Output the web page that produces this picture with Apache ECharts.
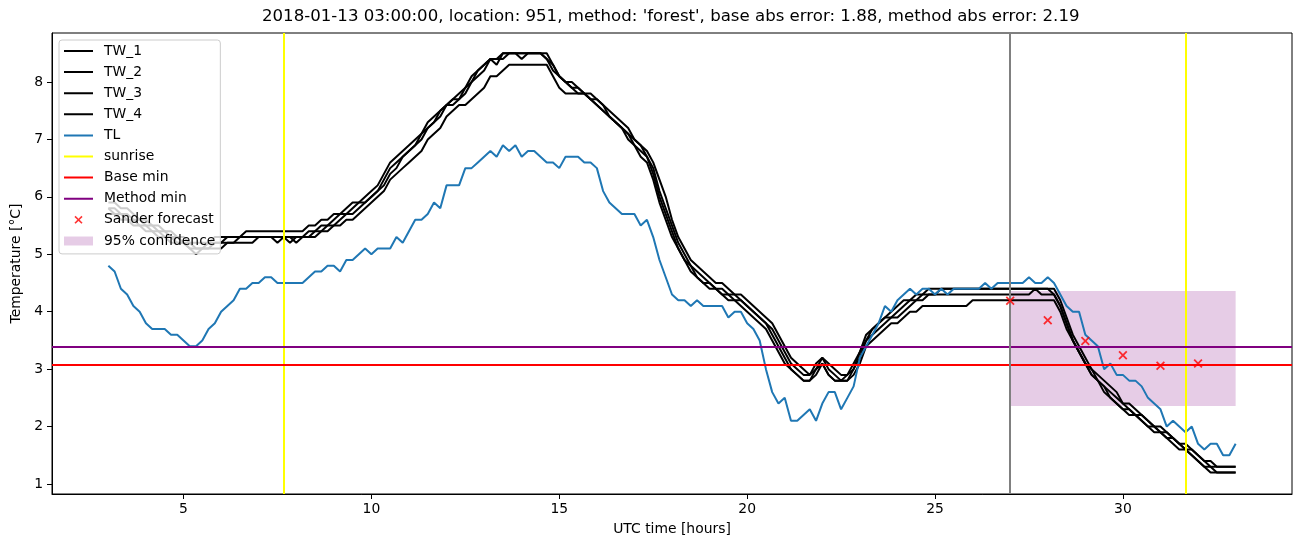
<!DOCTYPE html>
<html>
<head>
<meta charset="utf-8">
<script src="https://cdn.jsdelivr.net/npm/echarts@6/dist/echarts.min.js"></script>
<style>html,body{margin:0;padding:0;background:#fff}#c{width:1302px;height:547px}</style>
</head>
<body>
<div id="c"></div>
<script>
// ---- data (10-minute samples from 3 h to 33 h) ----
const tStart = 3, tStep = 1 / 6;
const TW_1 = [
  5.9,5.9,5.8,5.8,5.7,5.6, 5.6,5.5,5.5,5.4,5.4,5.3, 5.3,5.2,5.2,5.2,5.2,5.3, 5.3,5.3,5.3,5.3,5.4,5.4,
  5.4,5.4,5.4,5.4,5.4,5.4, 5.4,5.4,5.5,5.5,5.6,5.6, 5.7,5.7,5.8,5.9,5.9,6.0, 6.1,6.2,6.4,6.6,6.7,6.8,
  6.9,7.0,7.1,7.3,7.4,7.5, 7.6,7.7,7.8,7.9,8.1,8.2, 8.3,8.4,8.4,8.5,8.5,8.5, 8.5,8.5,8.5,8.5,8.5,8.3,
  8.1,8.0,7.9,7.9,7.8,7.8, 7.7,7.6,7.5,7.4,7.3,7.2, 7.0,6.9,6.8,6.6,6.3,6.0, 5.6,5.3,5.1,4.9,4.8,4.7,
  4.6,4.5,4.5,4.4,4.3,4.3, 4.2,4.1,4.0,3.9,3.8,3.6, 3.4,3.2,3.1,3.0,2.9,3.1, 3.2,3.1,3.0,2.9,2.9,3.1,
  3.3,3.6,3.7,3.8,3.9,4.0, 4.1,4.2,4.2,4.3,4.3,4.4, 4.4,4.4,4.4,4.4,4.4,4.4, 4.4,4.4,4.4,4.4,4.4,4.4,
  4.4,4.4,4.4,4.4,4.4,4.4, 4.4,4.4,4.2,3.9,3.6,3.4, 3.2,3.0,2.9,2.8,2.7,2.6, 2.4,2.4,2.3,2.2,2.1,2.0,
  2.0,1.9,1.8,1.7,1.7,1.6, 1.5,1.4,1.4,1.3,1.3,1.3, 1.3
];
const TW_2 = [
  5.8,5.8,5.7,5.7,5.6,5.6, 5.5,5.5,5.4,5.4,5.3,5.3, 5.2,5.2,5.1,5.1,5.2,5.2, 5.2,5.3,5.3,5.3,5.3,5.3,
  5.3,5.3,5.3,5.2,5.3,5.3, 5.2,5.3,5.4,5.4,5.5,5.5, 5.6,5.7,5.7,5.8,5.9,5.9, 6.0,6.1,6.3,6.5,6.6,6.7,
  6.8,6.9,7.1,7.2,7.3,7.5, 7.6,7.7,7.7,7.9,8.0,8.2, 8.3,8.4,8.3,8.5,8.5,8.5, 8.5,8.5,8.5,8.5,8.4,8.3,
  8.1,8.0,8.0,7.9,7.8,7.7, 7.7,7.6,7.4,7.3,7.2,7.1, 7.0,6.9,6.7,6.5,6.1,5.8, 5.5,5.2,5.0,4.8,4.7,4.6,
  4.5,4.4,4.4,4.3,4.3,4.2, 4.1,4.0,3.9,3.8,3.7,3.5, 3.3,3.1,3.0,2.9,2.9,3.0, 3.2,3.0,2.9,2.8,2.9,3.0,
  3.3,3.5,3.7,3.8,3.9,3.9, 4.0,4.1,4.2,4.2,4.3,4.3, 4.3,4.4,4.4,4.4,4.4,4.4, 4.4,4.4,4.4,4.4,4.4,4.4,
  4.4,4.4,4.4,4.4,4.4,4.4, 4.4,4.3,4.1,3.8,3.5,3.3, 3.1,3.0,2.8,2.7,2.6,2.5, 2.4,2.3,2.2,2.2,2.1,2.0,
  1.9,1.9,1.8,1.7,1.6,1.6, 1.5,1.4,1.3,1.3,1.3,1.3, 1.3
];
const TW_3 = [
  5.8,5.7,5.7,5.6,5.6,5.5, 5.5,5.4,5.4,5.3,5.3,5.2, 5.2,5.1,5.0,5.1,5.1,5.2, 5.2,5.2,5.2,5.3,5.3,5.3,
  5.3,5.3,5.3,5.3,5.3,5.2, 5.3,5.3,5.3,5.4,5.4,5.5, 5.5,5.6,5.7,5.7,5.8,5.9, 6.0,6.1,6.2,6.4,6.5,6.7,
  6.8,6.9,7.0,7.2,7.3,7.4, 7.6,7.6,7.7,7.8,8.0,8.1, 8.2,8.4,8.4,8.4,8.5,8.5, 8.4,8.5,8.5,8.5,8.4,8.2,
  8.1,8.0,7.9,7.8,7.8,7.7, 7.6,7.5,7.4,7.3,7.2,7.1, 6.9,6.8,6.7,6.4,6.0,5.7, 5.4,5.1,4.9,4.8,4.6,4.5,
  4.5,4.4,4.3,4.3,4.2,4.2, 4.1,4.0,3.9,3.8,3.6,3.4, 3.2,3.0,2.9,2.8,2.8,3.0, 3.1,2.9,2.8,2.8,2.8,3.0,
  3.2,3.5,3.6,3.7,3.8,3.9, 3.9,4.0,4.1,4.2,4.2,4.3, 4.3,4.3,4.3,4.3,4.3,4.3, 4.3,4.3,4.3,4.3,4.3,4.3,
  4.3,4.3,4.3,4.3,4.4,4.3, 4.3,4.3,4.1,3.8,3.5,3.3, 3.1,2.9,2.8,2.7,2.5,2.4, 2.3,2.3,2.2,2.1,2.0,2.0,
  1.9,1.8,1.8,1.7,1.6,1.5, 1.4,1.3,1.3,1.2,1.2,1.2, 1.2
];
const TW_4 = [
  5.7,5.7,5.6,5.6,5.5,5.5, 5.4,5.4,5.3,5.3,5.2,5.2, 5.2,5.1,5.1,5.1,5.1,5.1, 5.1,5.2,5.2,5.2,5.2,5.2,
  5.3,5.3,5.3,5.3,5.3,5.3, 5.3,5.3,5.3,5.3,5.4,5.4, 5.5,5.5,5.6,5.6,5.7,5.8, 5.9,6.0,6.1,6.3,6.4,6.5,
  6.6,6.7,6.8,7.0,7.1,7.2, 7.4,7.5,7.6,7.6,7.7,7.8, 7.9,8.1,8.1,8.2,8.3,8.3, 8.3,8.3,8.3,8.3,8.3,8.1,
  7.9,7.8,7.8,7.8,7.8,7.7, 7.6,7.5,7.4,7.3,7.2,7.0, 6.9,6.7,6.6,6.3,5.9,5.6, 5.3,5.1,4.9,4.7,4.6,4.5,
  4.4,4.4,4.3,4.2,4.2,4.1, 4.0,3.9,3.8,3.7,3.5,3.3, 3.1,3.0,2.9,2.8,2.8,2.9, 3.1,2.9,2.8,2.8,2.8,2.9,
  3.1,3.4,3.5,3.6,3.7,3.8, 3.8,3.9,4.0,4.0,4.1,4.1, 4.1,4.1,4.1,4.1,4.1,4.1, 4.2,4.2,4.2,4.2,4.2,4.2,
  4.2,4.2,4.2,4.2,4.2,4.2, 4.2,4.2,4.0,3.7,3.5,3.3, 3.1,2.9,2.8,2.6,2.5,2.4, 2.3,2.2,2.2,2.1,2.0,1.9,
  1.9,1.8,1.7,1.6,1.6,1.5, 1.4,1.3,1.2,1.2,1.2,1.2, 1.2
];
const TL = [
  4.8,4.7,4.4,4.3,4.1,4.0, 3.8,3.7,3.7,3.7,3.6,3.6, 3.5,3.4,3.4,3.5,3.7,3.8, 4.0,4.1,4.2,4.4,4.4,4.5,
  4.5,4.6,4.6,4.5,4.5,4.5, 4.5,4.5,4.6,4.7,4.7,4.8, 4.8,4.7,4.9,4.9,5.0,5.1, 5.0,5.1,5.1,5.1,5.3,5.2,
  5.4,5.6,5.6,5.7,5.9,5.8, 6.2,6.2,6.2,6.5,6.5,6.6, 6.7,6.8,6.7,6.9,6.8,6.9, 6.7,6.8,6.8,6.7,6.6,6.6,
  6.5,6.7,6.7,6.7,6.6,6.6, 6.5,6.1,5.9,5.8,5.7,5.7, 5.7,5.5,5.6,5.3,4.9,4.6, 4.3,4.2,4.2,4.1,4.2,4.1,
  4.1,4.1,4.1,3.9,4.0,4.0, 3.8,3.7,3.5,3.0,2.6,2.4, 2.5,2.1,2.1,2.2,2.3,2.1, 2.4,2.6,2.6,2.3,2.5,2.7,
  3.2,3.4,3.6,3.8,4.1,4.0, 4.2,4.3,4.4,4.3,4.4,4.4, 4.3,4.4,4.3,4.4,4.4,4.4, 4.4,4.4,4.5,4.4,4.5,4.5,
  4.5,4.5,4.5,4.6,4.5,4.5, 4.6,4.5,4.3,4.1,4.0,4.0, 3.6,3.5,3.4,3.0,3.1,2.9, 2.9,2.8,2.8,2.7,2.5,2.4,
  2.3,2.0,2.1,2.0,1.9,2.0, 1.7,1.6,1.7,1.7,1.5,1.5, 1.7
];
const sunriseHours = [7.68, 31.68];
const forecastStart = 27;
const baseMin = 3.08;
const methodMin = 3.39;
const sanderHours = [27, 28, 29, 30, 31, 32];
const sanderValues = [4.19, 3.85, 3.49, 3.24, 3.06, 3.10];
const confidence = { x0: 27, x1: 33, low: 2.36, high: 4.36 };
const xTicks = [5, 10, 15, 20, 25, 30];
const yTicks = [1, 2, 3, 4, 5, 6, 7, 8];
const titleText = "2018-01-13 03:00:00, location: 951, method: 'forest', base abs error: 1.88, method abs error: 2.19";

// ---- build ----
const pair = arr => arr.map((v, i) => [tStart + i * tStep, v]);
const FONT = 'DejaVu Sans';
const xMarkPath = 'path://M0,1.4 L1.4,0 L5,3.6 L8.6,0 L10,1.4 L6.4,5 L10,8.6 L8.6,10 L5,6.4 L1.4,10 L0,8.6 L3.6,5 Z';
const xMarkLegend = 'path://M-3,-3 L-3,-3 L-3,-3 Z M13,13 L13,13 L13,13 Z M0,1.4 L1.4,0 L5,3.6 L8.6,0 L10,1.4 L6.4,5 L10,8.6 L8.6,10 L5,6.4 L1.4,10 L0,8.6 L3.6,5 Z';
const rectLegend = 'path://M0,0 L0,0 L0,0 Z M29,13 L29,13 L29,13 Z M0,2 L29,2 L29,11 L0,11 Z';
const lineLegend = 'path://M0,0 L0,0 L0,0 Z M29,13 L29,13 L29,13 Z M0,5.5 L29,5.5 L29,7.5 L0,7.5 Z';

const lineSeries = (name, data, color, z) => ({
  name, type: 'line', data: pair(data), symbol: 'none', showSymbol: false,
  lineStyle: { color, width: 2 }, itemStyle: { color }, z, animation: false, silent: true
});
const markOnly = (name, color, markLineData, z) => ({
  name, type: 'line', data: [], symbol: 'none',
  lineStyle: { color, width: 2 }, itemStyle: { color }, z, animation: false, silent: true,
  markLine: { silent: true, symbol: ['none', 'none'], label: { show: false }, animation: false,
    lineStyle: { color, width: 2, type: 'solid' }, data: markLineData }
});
const lineLegendItem = name => ({ name, icon: lineLegend });

const chart = echarts.init(document.getElementById('c'), null, { renderer: 'canvas' });
chart.setOption({
  animation: false,
  backgroundColor: '#fff',
  textStyle: { fontFamily: FONT },
  grid: { left: 52, right: 10, top: 33, bottom: 53, show: true, borderColor: '#000', borderWidth: 1, containLabel: false },
  graphic: [{ type: 'text', left: 672 - 410, top: 8, style: { text: titleText, font: '16.6px "DejaVu Sans"', fill: '#000' } }],
  xAxis: {
    type: 'value', min: 1.5, max: 34.5,
    name: 'UTC time [hours]', nameLocation: 'middle', nameGap: 28,
    nameTextStyle: { fontFamily: FONT, fontSize: 13.9, color: '#000' },
    axisLine: { show: true, onZero: false, lineStyle: { color: '#000', width: 1 } },
    axisTick: { show: true, length: 5, lineStyle: { color: '#000' }, customValues: xTicks },
    axisLabel: { fontFamily: FONT, fontSize: 13.9, color: '#000', margin: 8, customValues: xTicks },
    splitLine: { show: false }
  },
  yAxis: {
    type: 'value', min: 0.826, max: 8.853,
    name: 'Temperature [°C]', nameLocation: 'middle', nameGap: 27, nameRotate: 90,
    nameTextStyle: { fontFamily: FONT, fontSize: 13.9, color: '#000' },
    axisLine: { show: true, onZero: false, lineStyle: { color: '#000', width: 1 } },
    axisTick: { show: true, length: 5, lineStyle: { color: '#000' }, customValues: yTicks },
    axisLabel: { fontFamily: FONT, fontSize: 13.9, color: '#000', margin: 9, customValues: yTicks },
    splitLine: { show: false }
  },
  legend: {
    orient: 'vertical', left: 59, top: 40,
    padding: [4, 5, 6, 5], itemGap: 7.1, itemWidth: 29, itemHeight: 13,
    backgroundColor: 'rgba(255,255,255,0.8)', borderColor: '#cccccc', borderWidth: 1, borderRadius: 3,
    textStyle: { fontFamily: FONT, fontSize: 13.9, color: '#000', lineHeight: 13, padding: [0, 0, 0, 6] },
    selectedMode: false,
    data: ['TW_1', 'TW_2', 'TW_3', 'TW_4', 'TL', 'sunrise', 'Base min', 'Method min'].map(lineLegendItem).concat([
      { name: 'Sander forecast', icon: xMarkLegend },
      { name: '95% confidence', icon: rectLegend, itemStyle: { color: 'rgba(128,0,128,0.2)' } }])
  },
  series: [
    {
      name: '95% confidence', type: 'line', data: [], symbol: 'none', z: 1, silent: true,
      itemStyle: { color: 'rgba(128,0,128,0.2)' }, lineStyle: { color: 'rgba(128,0,128,0.2)' },
      markArea: { silent: true, itemStyle: { color: 'rgba(128,0,128,0.2)' },
        data: [[{ xAxis: confidence.x0, yAxis: confidence.low }, { xAxis: confidence.x1, yAxis: confidence.high }]] }
    },
    lineSeries('TW_1', TW_1, '#000', 3),
    lineSeries('TW_2', TW_2, '#000', 3),
    lineSeries('TW_3', TW_3, '#000', 3),
    lineSeries('TW_4', TW_4, '#000', 3),
    lineSeries('TL', TL, '#1f77b4', 4),
    markOnly('sunrise', '#ffff00', sunriseHours.map(h => ({ xAxis: h })), 5),
    markOnly('Base min', '#ff0000', [{ yAxis: baseMin }], 5),
    markOnly('Method min', '#800080', [{ yAxis: methodMin }], 5),
    markOnly('forecast start', '#808080', [{ xAxis: forecastStart }], 5),
    {
      name: 'Sander forecast', type: 'scatter', symbol: xMarkPath, symbolSize: 9, z: 6, silent: true,
      itemStyle: { color: '#ff0000' },
      data: sanderHours.map((h, i) => [h, sanderValues[i]])
    }
  ]
});
</script>
</body>
</html>
